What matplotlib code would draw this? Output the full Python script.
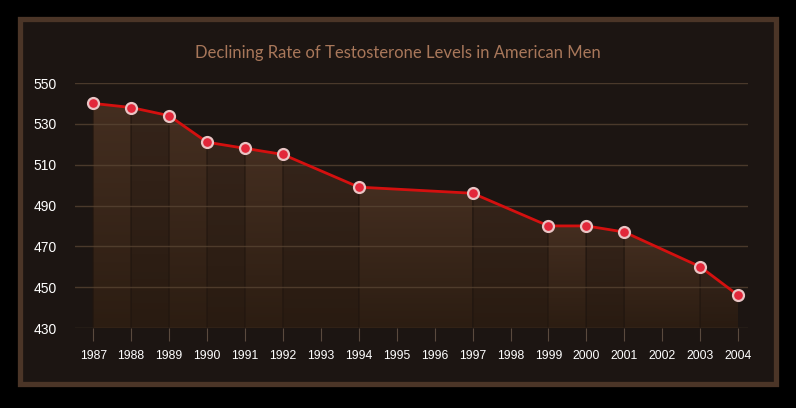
import numpy as np
import matplotlib
matplotlib.use("Agg")
from matplotlib import pyplot as plt
from matplotlib.patches import Rectangle, Polygon

years = [str(y) for y in range(1987, 2005)]
data_years = [1987, 1988, 1989, 1990, 1991, 1992, 1994, 1997, 1999, 2000, 2001, 2003, 2004]
levels = [540, 538, 534, 521, 518, 515, 499, 496, 480, 480, 477, 460, 446]
y_ticks = [430, 450, 470, 490, 510, 530, 550]
title = "Declining Rate of Testosterone Levels in American Men"

W, H = 796, 408
fig = plt.figure(figsize=(W / 100, H / 100), dpi=100)
fig.patch.set_facecolor("#000000")

# outer panel with brown border
fig.patches.append(Rectangle((20 / W, 1 - 384 / H), 756 / W, 365 / H,
                             transform=fig.transFigure, facecolor="#1c1512",
                             edgecolor="#4b3527", linewidth=3.8, zorder=-5))

ax = fig.add_axes([75 / W, 1 - 328 / H, (748 - 75) / W, (328 - 83) / H])
ax.set_facecolor("none")

xs = np.array([years.index(str(y)) for y in data_years])
ys = np.array(levels, dtype=float)
ymin, ymax = 430, 550

# alternating gradient bands under the line
grad = np.linspace(1, 0, 256).reshape(-1, 1)
for i in range(len(xs) - 1):
    x0, x1 = xs[i], xs[i + 1]
    poly = Polygon([(x0, ymin), (x0, ys[i]), (x1, ys[i + 1]), (x1, ymin)],
                   closed=True, facecolor="none", edgecolor="none")
    ax.add_patch(poly)
    if i % 2 == 0:
        cmap = matplotlib.colors.LinearSegmentedColormap.from_list("b", ["#2c1d12", "#442e20"])
    else:
        cmap = matplotlib.colors.LinearSegmentedColormap.from_list("b", ["#291b11", "#35241a"])
    im = ax.imshow(grad, cmap=cmap, aspect="auto", extent=(x0, x1, ymin, max(ys[i], ys[i + 1])),
                   origin="upper", zorder=1, interpolation="bilinear")
    im.set_clip_path(poly)
    ax.plot([x0, x0], [ymin, ys[i]], color="#21160f", lw=1.2, alpha=0.6, zorder=1.5)

ax.plot(xs, ys, color="#d4100f", lw=2, zorder=3)
ax.scatter(xs, ys, s=62, facecolor="#e2273a", edgecolor="#e9c4c4", linewidth=1.6, zorder=4)

ax.set_xlim(-0.48, 17.26)
ax.set_ylim(ymin, ymax)
ax.set_yticks(y_ticks)
ax.set_xticks(range(len(years)))
ax.set_xticklabels(years)
for t in y_ticks:
    ax.axhline(t, color="#5a4634", lw=1, alpha=0.75, zorder=2)
for s in ax.spines.values():
    s.set_visible(False)
ax.tick_params(axis="y", length=0, pad=13, labelcolor="#ffffff", labelsize=10)
ax.tick_params(axis="x", length=9, width=0.8, color="#5a4a3e", pad=7, labelcolor="#ffffff", labelsize=8.8)
for lbl in ax.get_xticklabels() + ax.get_yticklabels():
    lbl.set_family("Liberation Sans")

fig.text(397.5 / W, 1 - 53 / H, title, ha="center", va="center", color="#a8775a",
         fontsize=12, family="Lato")

fig.savefig("out.png", dpi=100, facecolor=fig.get_facecolor())
